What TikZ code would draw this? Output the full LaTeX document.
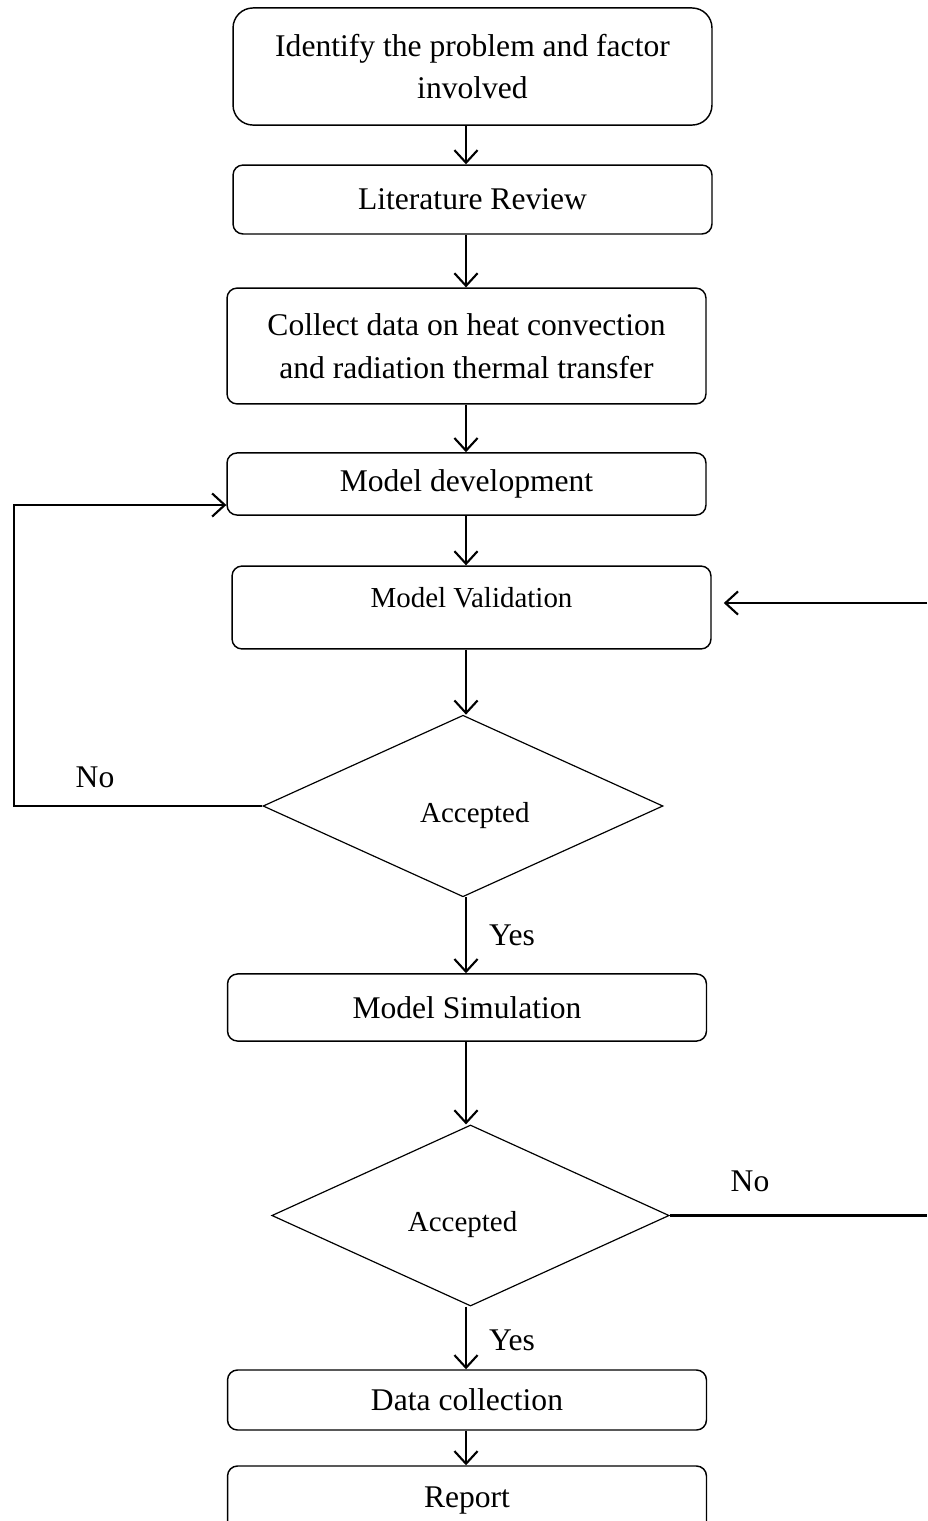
\documentclass[tikz,border=0pt]{standalone}
\usepackage{fontspec}
\setmainfont{Liberation Serif}
\usetikzlibrary{shapes.geometric,arrows.meta}

\begin{document}
\begin{tikzpicture}[x=0.38pt, y=-0.38pt,
		box/.style={draw, rounded corners=3.8pt, line width=0.55pt, minimum width=182pt,
			align=center, inner sep=2pt, font=\fontsize{12}{16.2}\selectfont},
		decision/.style={draw, diamond, line width=0.45pt, inner sep=0pt,
			text height=14.5pt, font=\fontsize{11}{13}\selectfont},
		flow/.style={line width=0.8pt, -{Straight Barb[length=4.8pt, width=8.8pt]}},
		plain/.style={line width=0.8pt},
		lbl/.style={font=\fontsize{12}{14}\selectfont}]
		\clip (0,0) rectangle (927,1521);
		
		% Blocks
		\node[box, rounded corners=7.6pt, minimum height=44.5pt] (ident) at (472.5,66.5) {Identify the problem and factor\\involved};
		\node[box, minimum height=26.2pt] (lit) at (472.5,199.5) {Literature Review};
		\node[box, minimum height=44pt] (collect) at (466.5,346) {Collect data on heat convection\\and radiation thermal transfer};
		\node[box, minimum height=23.6pt] (dev) at (466.5,484) {Model development};
		\node[box, minimum height=31.5pt, text depth=7.6pt, font=\fontsize{11}{13}\selectfont] (valid) at (471.5,607.5) {Model Validation};
		\node[decision, minimum width=152pt, minimum height=69pt] (acc1) at (463,806) {\hspace*{9pt}Accepted};
		\node[box, minimum height=25.5pt] (sim) at (467,1007.5) {Model Simulation};
		\node[decision, minimum width=151pt, minimum height=68.8pt] (acc2) at (470.5,1215.5) {Accepted\hspace*{6pt}};
		\node[box, minimum height=22.8pt] (datac) at (467,1400) {Data collection};
		\node[box, minimum height=26.6pt] (report) at (467,1501) {Report};
		
		% Main flow
		\coordinate (axis) at (466,0);
		\foreach \a/\b in {ident/lit, lit/collect, collect/dev, dev/valid, valid/acc1,
			acc1/sim, sim/acc2, acc2/datac, datac/report}
		\draw[flow] (axis |- \a.south) -- (axis |- \b.north);
		
		\node[lbl] (yes1) at (512,935) {Yes};
		\node[lbl] (yes2) at (512,1340) {Yes};
		
		% Loop back to model development
		\coordinate (ltop) at (14,505);
		\draw[flow] (acc1.west) -| (ltop) -- (ltop -| dev.west);
		\node[lbl] (no1) at (95,777) {No};
		
		% Loop back to model validation
		\coordinate (rbot) at (927,1219);
		\coordinate (rtop) at (927,603);
		\draw[plain] (acc2.east) -- (acc2.east -| rbot);
		\draw[flow, shorten >=4.6pt] (rtop) -- (rtop -| valid.east);
		\node[lbl] (no2) at (750,1181) {No};
	\end{tikzpicture}
\end{document}
